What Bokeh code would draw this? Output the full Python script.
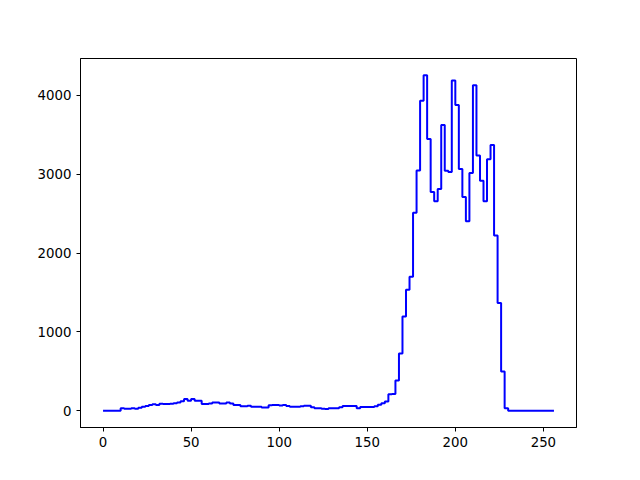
import numpy as np
from bokeh.plotting import figure
from bokeh.models import Range1d, FixedTicker
from bokeh.embed import file_html
from bokeh.resources import INLINE

# histogram: bins of width 2 starting at 0
bin_width = 2
first_edge = 0
counts = [
    0, 0, 0, 0, 0,
    32, 24, 24, 32, 24,
    38, 50, 60, 72, 82,
    72, 90, 84, 84, 90,
    95, 104, 120, 148, 125,
    148, 125, 125, 84, 84,
    93, 104, 104, 93, 93,
    104, 93, 72, 72, 56,
    56, 64, 50, 50, 50,
    42, 42, 70, 74, 74,
    65, 72, 60, 50, 50,
    50, 56, 62, 62, 44,
    33, 33, 26, 22, 32,
    32, 32, 44, 60, 60,
    60, 60, 33, 46, 46,
    46, 46, 58, 75, 95,
    118, 208, 212, 382, 727,
    1194, 1536, 1698, 2510, 3046,
    3932, 4255, 3446, 2774, 2657,
    2812, 3625, 3044, 3027, 4188,
    3877, 3065, 2711, 2404, 3014,
    4128, 3237, 2918, 2657, 3191,
    3372, 2223, 1365, 497, 32,
    0, 0, 0, 0, 0, 0, 0, 0, 0, 0, 0, 0, 0,
]
x_ticks = [0, 50, 100, 150, 200, 250]
y_ticks = [0, 1000, 2000, 3000, 4000]

edges = first_edge + bin_width * np.arange(len(counts) + 1)
xs = list(edges)
ys = list(counts) + [counts[-1]]

x_lo, x_hi = float(edges[0]), float(edges[-1])
mx = (x_hi - x_lo) * 0.05
y_max = float(max(counts))
my = y_max * 0.05

p = figure(frame_width=496, frame_height=369,
           min_border_left=80, min_border_right=56,
           min_border_top=58, min_border_bottom=45,
           output_backend="svg", toolbar_location=None,
           x_range=Range1d(x_lo - mx, x_hi + mx),
           y_range=Range1d(-my, y_max + my))

p.step(xs, ys, mode="after", line_color="#0000ff", line_width=2)

p.background_fill_color = "white"
p.border_fill_color = "white"
p.outline_line_color = "black"
p.outline_line_width = 1
p.outline_line_alpha = 1
p.xgrid.visible = False
p.ygrid.visible = False

p.xaxis.ticker = FixedTicker(ticks=x_ticks)
p.yaxis.ticker = FixedTicker(ticks=y_ticks)
for ax in (p.xaxis[0], p.yaxis[0]):
    ax.axis_line_color = "black"
    ax.axis_line_width = 1
    ax.major_tick_line_color = "black"
    ax.major_tick_line_width = 1
    ax.major_tick_out = 4
    ax.major_tick_in = 0
    ax.minor_tick_line_color = None
    ax.major_label_text_font = "DejaVu Sans"
    ax.major_label_text_font_size = "13.33px"
    ax.major_label_text_color = "black"
    ax.major_label_standoff = 5

open("out.html", "w").write(file_html(p, INLINE))
